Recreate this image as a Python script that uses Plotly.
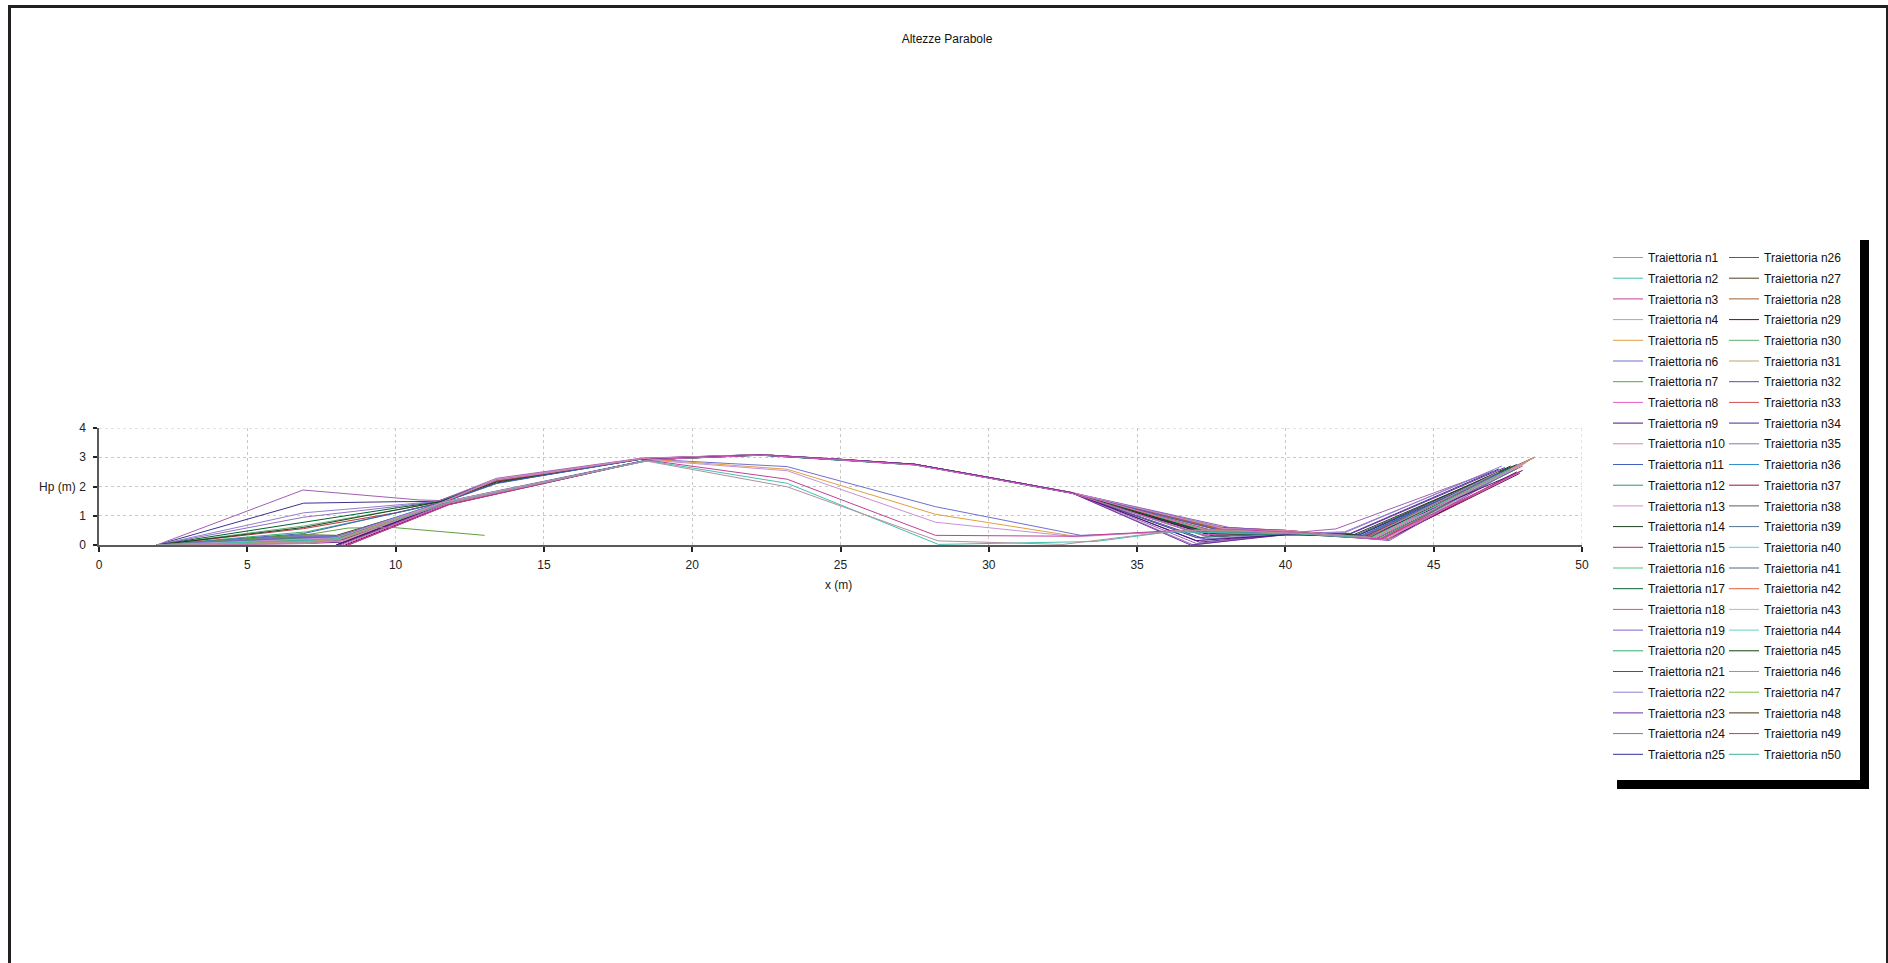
import plotly.graph_objects as go

# ---------------- data ----------------
x_n1 = [1.95, 7.0, 8.1, 11.7, 18.4, 23.2, 28.3, 32.5, 36.4, 38.5, 40.5, 42.8, 47.2]
y_n1 = [0, 0.08, 0.18, 1.42, 2.88, 1.99, 0.14, 0.02, 0.50, 0.48, 0.40, 0.28, 2.50]
x_n2 = [1.95, 7.0, 8.2, 11.7, 18.5, 23.2, 28.3, 33.6, 36.1, 38.3, 40.4, 42.9, 47.6]
y_n2 = [0, 0.15, 0.22, 1.44, 2.88, 2.11, 0.02, 0.12, 0.45, 0.42, 0.38, 0.25, 2.60]
x_n3 = [8.4, 11.8, 18.5, 23.2, 28.2, 32.8, 36.4, 38.6, 40.6, 43.2, 47.9]
y_n3 = [0, 1.38, 2.90, 2.25, 0.33, 0.30, 0.50, 0.52, 0.40, 0.20, 2.50]
x_n4 = [1.95, 6.9, 8.0, 11.6, 18.6, 23.2, 28.2, 32.96, 36.6, 38.4, 40.3, 43.0, 48.1]
y_n4 = [0, 0.20, 0.25, 1.45, 2.90, 2.54, 0.78, 0.28, 0.50, 0.55, 0.42, 0.22, 2.80]
x_n5 = [1.95, 6.9, 8.1, 11.6, 18.7, 23.2, 28.2, 32.9, 36.5, 38.2, 40.2, 42.9, 48.4]
y_n5 = [0, 0.12, 0.20, 1.46, 2.92, 2.59, 1.05, 0.30, 0.48, 0.50, 0.40, 0.25, 3.00]
x_n6 = [1.95, 7.0, 8.0, 11.6, 18.6, 23.2, 28.2, 33.1, 36.3, 38.0, 40.0, 42.6, 47.6]
y_n6 = [0, 0.30, 0.28, 1.47, 2.93, 2.68, 1.31, 0.33, 0.45, 0.45, 0.42, 0.30, 2.60]
x_n7 = [1.95, 7.0, 8.4, 9.9, 13.0]
y_n7 = [0, 0.35, 0.58, 0.60, 0.33]
x_n8 = [8.2, 11.8, 18.6, 22.3, 25.0, 27.5, 30.0, 32.8, 37.2, 40.0, 43.3, 47.9]
y_n8 = [0, 1.42, 2.92, 3.07, 2.92, 2.74, 2.29, 1.77, 0.35, 0.45, 0.20, 2.50]
x_n9 = [8.0, 11.7, 18.6, 22.3, 25.0, 27.5, 30.0, 32.8, 37.0, 40.0, 42.8, 48.0]
y_n9 = [0, 1.44, 2.93, 3.08, 2.93, 2.76, 2.31, 1.79, 0.15, 0.35, 0.30, 2.55]
x_n10 = [1.95, 7.0, 8.3, 11.6, 13.4, 15.0, 18.3, 22.3, 25.0, 27.5, 30.0, 32.8, 37.6, 40.0, 43.0, 48.3]
y_n10 = [0, 0.05, 0.15, 1.47, 2.22, 2.44, 2.95, 3.09, 2.91, 2.74, 2.30, 1.80, 0.45, 0.50, 0.25, 2.95]
x_n11 = [1.95, 6.9, 11.6, 13.4, 15.0, 18.3, 22.3, 25.0, 27.5, 30.0, 32.8, 37.8, 40.0, 42.5, 48.4]
y_n11 = [0, 0.39, 1.46, 2.10, 2.38, 2.94, 3.08, 2.92, 2.75, 2.30, 1.78, 0.50, 0.42, 0.30, 3.00]
x_n12 = [1.95, 7.0, 8.2, 11.7, 18.6, 22.3, 25.0, 27.5, 30.0, 32.8, 37.4, 40.0, 43.1, 47.8]
y_n12 = [0, 0.25, 0.30, 1.45, 2.92, 3.07, 2.91, 2.74, 2.29, 1.77, 0.30, 0.38, 0.22, 2.60]
x_n13 = [1.95, 6.9, 8.1, 11.6, 13.4, 15.0, 18.3, 22.3, 25.0, 27.5, 30.0, 32.8, 38.0, 40.0, 43.4, 48.2]
y_n13 = [0, 0.10, 0.20, 1.47, 2.26, 2.47, 2.96, 3.09, 2.93, 2.76, 2.31, 1.79, 0.55, 0.45, 0.18, 2.90]
x_n14 = [1.95, 6.9, 11.5, 13.4, 15.0, 18.3, 22.3, 25.0, 27.5, 30.0, 32.8, 37.5, 40.0, 42.3, 47.8]
y_n14 = [0, 0.60, 1.48, 2.15, 2.40, 2.94, 3.08, 2.92, 2.75, 2.30, 1.78, 0.40, 0.45, 0.35, 2.75]
x_n15 = [1.95, 6.9, 10.0, 11.6, 13.4, 15.0, 18.3, 22.3, 25.0, 27.5, 30.0, 32.8, 37.9, 40.0, 42.7, 48.0]
y_n15 = [0, 0.56, 1.10, 1.47, 2.18, 2.42, 2.95, 3.08, 2.92, 2.75, 2.30, 1.78, 0.38, 0.40, 0.30, 2.80]
x_n16 = [1.95, 7.0, 8.0, 11.7, 18.6, 22.3, 25.0, 27.5, 30.0, 32.8, 37.3, 40.0, 43.0, 47.9]
y_n16 = [0, 0.18, 0.22, 1.44, 2.91, 3.07, 2.91, 2.74, 2.29, 1.77, 0.50, 0.48, 0.25, 2.70]
x_n17 = [1.95, 6.9, 10.1, 11.5, 13.4, 15.0, 18.3, 22.3, 25.0, 27.5, 30.0, 32.8, 37.7, 40.0, 42.6, 47.6]
y_n17 = [0, 0.79, 1.28, 1.48, 2.20, 2.43, 2.95, 3.09, 2.93, 2.76, 2.31, 1.79, 0.35, 0.40, 0.30, 2.65]
x_n18 = [1.95, 6.9, 8.1, 11.6, 18.6, 22.3, 25.0, 27.5, 30.0, 32.8, 37.6, 40.0, 43.2, 48.1]
y_n18 = [0, 0.30, 0.30, 1.45, 2.92, 3.08, 2.92, 2.75, 2.30, 1.78, 0.55, 0.50, 0.20, 2.85]
x_n19 = [1.95, 6.9, 8.0, 11.6, 13.4, 15.0, 18.3, 22.3, 25.0, 27.5, 30.0, 32.8, 38.1, 40.0, 43.5, 48.3]
y_n19 = [0, 0.22, 0.20, 1.47, 2.24, 2.46, 2.96, 3.09, 2.93, 2.76, 2.31, 1.79, 0.60, 0.48, 0.15, 2.95]
x_n20 = [1.95, 7.0, 10.5, 11.6, 18.6, 22.3, 25.0, 27.5, 30.0, 32.8, 37.4, 40.0, 42.8, 47.7]
y_n20 = [0, 0.45, 1.20, 1.46, 2.92, 3.08, 2.92, 2.75, 2.30, 1.78, 0.45, 0.42, 0.30, 2.70]
x_n21 = [8.1, 11.8, 18.6, 22.3, 25.0, 27.5, 30.0, 32.8, 37.0, 40.0, 42.4, 47.5]
y_n21 = [0, 1.43, 2.92, 3.08, 2.92, 2.75, 2.30, 1.78, 0.25, 0.40, 0.35, 2.60]
x_n22 = [1.95, 6.9, 10.4, 11.5, 13.4, 15.0, 18.3, 22.3, 25.0, 27.5, 30.0, 32.8, 37.2, 40.0, 42.0, 47.3]
y_n22 = [0, 1.10, 1.40, 1.50, 2.20, 2.43, 2.95, 3.08, 2.92, 2.75, 2.30, 1.78, 0.20, 0.38, 0.42, 2.70]
x_n23 = [1.95, 6.9, 8.3, 11.7, 18.6, 22.3, 25.0, 27.5, 30.0, 32.8, 36.8, 40.0, 42.2, 47.4]
y_n23 = [0, 0.05, 0.10, 1.44, 2.92, 3.08, 2.92, 2.75, 2.30, 1.78, 0.00, 0.35, 0.38, 2.65]
x_n24 = [1.95, 6.88, 10.8, 11.5, 13.4, 15.0, 18.3, 22.3, 25.0, 27.5, 30.0, 32.8, 37.0, 40.0, 41.7, 46.8]
y_n24 = [0, 1.88, 1.54, 1.52, 2.28, 2.50, 2.97, 3.09, 2.93, 2.76, 2.31, 1.79, 0.05, 0.40, 0.55, 2.45]
x_n25 = [8.0, 11.7, 18.6, 22.3, 25.0, 27.5, 30.0, 32.8, 37.3, 40.0, 42.5, 47.6]
y_n25 = [0, 1.44, 2.92, 3.07, 2.91, 2.74, 2.29, 1.77, 0.20, 0.35, 0.35, 2.60]
x_n26 = [1.95, 7.0, 8.2, 11.6, 13.4, 15.0, 18.3, 22.3, 25.0, 27.5, 30.0, 32.8, 37.8, 40.0, 43.3, 48.2]
y_n26 = [0, 0.12, 0.18, 1.47, 2.23, 2.45, 2.95, 3.08, 2.92, 2.75, 2.30, 1.78, 0.60, 0.50, 0.22, 2.90]
x_n27 = [1.95, 6.9, 8.0, 11.7, 18.6, 22.3, 25.0, 27.5, 30.0, 32.8, 37.5, 40.0, 42.9, 47.9]
y_n27 = [0, 0.35, 0.33, 1.45, 2.92, 3.08, 2.92, 2.75, 2.30, 1.78, 0.40, 0.42, 0.28, 2.75]
x_n28 = [1.95, 7.0, 8.1, 11.6, 13.4, 15.0, 18.3, 22.3, 25.0, 27.5, 30.0, 32.8, 38.0, 40.0, 43.1, 48.1]
y_n28 = [0, 0.20, 0.25, 1.47, 2.21, 2.44, 2.95, 3.08, 2.92, 2.75, 2.30, 1.78, 0.50, 0.45, 0.25, 2.85]
x_n29 = [8.3, 11.8, 18.6, 22.3, 25.0, 27.5, 30.0, 32.8, 37.6, 40.0, 43.4, 47.9]
y_n29 = [0, 1.40, 2.92, 3.09, 2.93, 2.76, 2.31, 1.79, 0.30, 0.40, 0.18, 2.45]
x_n30 = [1.95, 6.9, 10.3, 11.5, 13.4, 15.0, 18.3, 22.3, 25.0, 27.5, 30.0, 32.8, 37.6, 40.0, 42.6, 47.8]
y_n30 = [0, 0.65, 1.25, 1.48, 2.17, 2.41, 2.94, 3.08, 2.92, 2.75, 2.30, 1.78, 0.42, 0.45, 0.30, 2.70]
x_n31 = [1.95, 7.0, 8.2, 11.7, 18.6, 22.3, 25.0, 27.5, 30.0, 32.8, 38.1, 40.0, 43.5, 48.4]
y_n31 = [0, 0.08, 0.15, 1.44, 2.92, 3.08, 2.92, 2.75, 2.30, 1.78, 0.55, 0.48, 0.20, 3.00]
x_n32 = [1.95, 6.9, 8.0, 11.6, 13.4, 15.0, 18.3, 22.3, 25.0, 27.5, 30.0, 32.8, 37.4, 40.0, 42.7, 48.0]
y_n32 = [0, 0.28, 0.25, 1.47, 2.19, 2.42, 2.94, 3.08, 2.92, 2.75, 2.30, 1.78, 0.38, 0.42, 0.32, 2.80]
x_n33 = [1.95, 7.0, 8.1, 11.7, 18.6, 22.3, 25.0, 27.5, 30.0, 32.8, 37.9, 40.0, 43.0, 48.0]
y_n33 = [0, 0.22, 0.22, 1.45, 2.92, 3.08, 2.92, 2.75, 2.30, 1.78, 0.50, 0.45, 0.25, 2.70]
x_n34 = [1.95, 6.9, 10.0, 11.4, 13.4, 15.0, 18.3, 22.3, 25.0, 27.5, 30.0, 32.8, 37.1, 40.0, 42.2, 47.2]
y_n34 = [0, 1.43, 1.48, 1.49, 2.22, 2.45, 2.95, 3.09, 2.93, 2.76, 2.31, 1.79, 0.10, 0.35, 0.40, 2.60]
x_n35 = [1.95, 6.9, 10.3, 11.5, 13.4, 15.0, 18.3, 22.3, 25.0, 27.5, 30.0, 32.8, 36.9, 40.0, 42.0, 47.0]
y_n35 = [0, 0.95, 1.35, 1.50, 2.24, 2.46, 2.95, 3.08, 2.92, 2.75, 2.30, 1.78, 0.00, 0.38, 0.45, 2.55]
x_n36 = [1.95, 7.0, 8.2, 11.7, 18.6, 22.3, 25.0, 27.5, 30.0, 32.8, 37.7, 40.0, 43.2, 48.2]
y_n36 = [0, 0.14, 0.20, 1.45, 2.92, 3.08, 2.92, 2.75, 2.30, 1.78, 0.45, 0.42, 0.22, 2.90]
x_n37 = [8.4, 11.8, 18.6, 22.3, 25.0, 27.5, 30.0, 32.8, 37.5, 40.0, 43.5, 47.8]
y_n37 = [0, 1.38, 2.92, 3.08, 2.92, 2.75, 2.30, 1.78, 0.35, 0.45, 0.20, 2.50]
x_n38 = [1.95, 6.9, 8.0, 11.6, 13.4, 15.0, 18.3, 22.3, 25.0, 27.5, 30.0, 32.8, 37.8, 40.0, 42.9, 48.1]
y_n38 = [0, 0.18, 0.20, 1.47, 2.20, 2.43, 2.95, 3.08, 2.92, 2.75, 2.30, 1.78, 0.50, 0.45, 0.28, 2.85]
x_n39 = [1.95, 7.0, 8.1, 11.7, 18.6, 22.3, 25.0, 27.5, 30.0, 32.8, 37.3, 40.0, 42.6, 47.7]
y_n39 = [0, 0.10, 0.16, 1.45, 2.92, 3.08, 2.92, 2.75, 2.30, 1.78, 0.30, 0.40, 0.32, 2.65]
x_n40 = [1.95, 6.9, 8.2, 11.6, 13.4, 15.0, 18.3, 22.3, 25.0, 27.5, 30.0, 32.8, 38.0, 40.0, 43.3, 48.3]
y_n40 = [0, 0.28, 0.27, 1.47, 2.23, 2.45, 2.95, 3.08, 2.92, 2.75, 2.30, 1.78, 0.55, 0.50, 0.20, 2.95]
x_n41 = [1.95, 7.0, 8.0, 11.7, 18.6, 22.3, 25.0, 27.5, 30.0, 32.8, 37.5, 40.0, 42.8, 47.9]
y_n41 = [0, 0.06, 0.12, 1.45, 2.92, 3.08, 2.92, 2.75, 2.30, 1.78, 0.40, 0.42, 0.28, 2.70]
x_n42 = [1.95, 6.9, 8.1, 11.6, 13.4, 15.0, 18.3, 22.3, 25.0, 27.5, 30.0, 32.8, 37.9, 40.0, 43.1, 48.2]
y_n42 = [0, 0.24, 0.26, 1.47, 2.25, 2.47, 2.96, 3.09, 2.93, 2.76, 2.31, 1.79, 0.60, 0.50, 0.25, 2.90]
x_n43 = [1.95, 7.0, 8.2, 11.7, 18.6, 22.3, 25.0, 27.5, 30.0, 32.8, 37.6, 40.0, 43.4, 48.4]
y_n43 = [0, 0.16, 0.20, 1.45, 2.92, 3.08, 2.92, 2.75, 2.30, 1.78, 0.50, 0.45, 0.20, 3.00]
x_n44 = [1.95, 6.9, 8.0, 11.6, 13.4, 15.0, 18.3, 22.3, 25.0, 27.5, 30.0, 32.8, 37.4, 40.0, 42.9, 48.0]
y_n44 = [0, 0.32, 0.30, 1.47, 2.18, 2.42, 2.94, 3.08, 2.92, 2.75, 2.30, 1.78, 0.45, 0.45, 0.30, 2.80]
x_n45 = [8.0, 11.6, 13.4, 15.0, 18.3, 22.3, 25.0, 27.5, 30.0, 32.8, 37.6, 40.0, 42.5, 47.6]
y_n45 = [0, 1.46, 2.12, 2.38, 2.94, 3.08, 2.92, 2.75, 2.30, 1.78, 0.30, 0.40, 0.35, 2.70]
x_n46 = [1.95, 7.0, 8.1, 11.7, 18.6, 22.3, 25.0, 27.5, 30.0, 32.8, 37.7, 40.0, 43.0, 48.1]
y_n46 = [0, 0.20, 0.22, 1.45, 2.92, 3.08, 2.92, 2.75, 2.30, 1.78, 0.45, 0.45, 0.25, 2.85]
x_n47 = [1.95, 6.9, 8.2, 11.6, 13.4, 15.0, 18.3, 22.3, 25.0, 27.5, 30.0, 32.8, 37.9, 40.0, 43.2, 48.2]
y_n47 = [0, 0.10, 0.15, 1.47, 2.22, 2.44, 2.95, 3.08, 2.92, 2.75, 2.30, 1.78, 0.50, 0.48, 0.22, 2.90]
x_n48 = [1.95, 6.9, 8.0, 11.7, 18.6, 22.3, 25.0, 27.5, 30.0, 32.8, 37.5, 40.0, 42.7, 47.9]
y_n48 = [0, 0.26, 0.28, 1.45, 2.92, 3.08, 2.92, 2.75, 2.30, 1.78, 0.40, 0.42, 0.30, 2.75]
x_n49 = [1.95, 7.0, 8.1, 11.6, 13.4, 15.0, 18.3, 22.3, 25.0, 27.5, 30.0, 32.8, 37.8, 40.0, 43.4, 47.9]
y_n49 = [0, 0.12, 0.18, 1.47, 2.21, 2.44, 2.95, 3.08, 2.92, 2.75, 2.30, 1.78, 0.55, 0.50, 0.20, 2.50]
x_n50 = [1.95, 6.9, 8.2, 11.7, 18.6, 22.3, 25.0, 27.5, 30.0, 32.8, 37.4, 40.0, 42.8, 48.0]
y_n50 = [0, 0.30, 0.28, 1.45, 2.92, 3.08, 2.92, 2.75, 2.30, 1.78, 0.35, 0.40, 0.28, 2.75]

line_colors = [
    "#b0909f", "#40c0b0", "#c0409a", "#c890d8", "#e0a040",
    "#7070d0", "#60a040", "#e060c0", "#501080", "#e080b0",
    "#4060c0", "#30907a", "#d090d0", "#204020", "#c03040",
    "#50c080", "#006030", "#d06060", "#8060d0", "#30b070",
    "#505070", "#9080d0", "#7030a0", "#a060b0", "#3030a0",
    "#904070", "#504020", "#a06030", "#700050", "#60b070",
    "#c0a070", "#5050b0", "#d05050", "#403090", "#9070c0",
    "#3090d0", "#a01040", "#606060", "#507090", "#50d0d0",
    "#506880", "#e06040", "#d0b0a0", "#60d0d0", "#104010",
    "#50b0d0", "#80c040", "#503010", "#c04050", "#40b0a0",
]

x_ticks = [0, 5, 10, 15, 20, 25, 30, 35, 40, 45, 50]
y_ticks = [0, 1, 2, 3, 4]

chart_title = "Altezze Parabole"
x_label = "x (m)"
y_label = "Hp (m)"

# ---------------- layout geometry ----------------
W, H = 1888, 963
L, R, T, B = 99, 306, 428, 418
PW = W - L - R
PH = H - T - B


def px(xp):
    return (xp - L) / PW


def py(yp):
    return (H - B - yp) / PH


FONT = "Liberation Sans, Arial, sans-serif"

g = globals()
fig = go.Figure()
# drawn from last to first so the first trajectories lie on top
for i in range(50, 0, -1):
    xs = g[f"x_n{i}"]
    ys = g[f"y_n{i}"]
    fig.add_trace(go.Scatter(
        x=xs, y=ys, mode="lines",
        name=f"Traiettoria n{i}",
        line=dict(color=line_colors[i - 1], width=1),
        legend="legend" if i <= 25 else "legend2",
        legendgroup=f"g{i:02d}",
        legendrank=i,
        hoverinfo="skip",
    ))

legend_common = dict(
    yanchor="top", xanchor="left",
    bgcolor="rgba(0,0,0,0)", borderwidth=0,
    font=dict(family=FONT, size=12, color="#111111"),
    traceorder="grouped", tracegroupgap=1.7,
    itemwidth=30, maxheight=700,
)

grid_style = dict(color="#c8c8c8", width=1, dash="3px,3px")
shapes = [
    # outer frame
    dict(type="rect", xref="paper", yref="paper",
         x0=px(9.5), x1=px(1887.5), y0=py(1000), y1=py(6.5),
         line=dict(color="#231f20", width=3), fillcolor="rgba(0,0,0,0)", layer="above"),
    # legend shadow (right and bottom)
    dict(type="rect", xref="paper", yref="paper",
         x0=px(1860), x1=px(1869), y0=py(789), y1=py(240),
         line=dict(width=0), fillcolor="#000000"),
    dict(type="rect", xref="paper", yref="paper",
         x0=px(1617), x1=px(1869), y0=py(789), y1=py(780),
         line=dict(width=0), fillcolor="#000000"),
    # border grid lines at the top and right of the plot area
    dict(type="line", xref="x", yref="y", x0=0, x1=50, y0=4, y1=4,
         line=grid_style, layer="below"),
    dict(type="line", xref="x", yref="y", x0=50, x1=50, y0=0, y1=4,
         line=grid_style, layer="below"),
]

annotations = [
    dict(text=y_label, xref="paper", yref="paper", x=px(37), y=py(487),
         xanchor="left", yanchor="middle", showarrow=False,
         font=dict(family=FONT, size=12, color="#222222")),
    dict(text=x_label, xref="paper", yref="paper", x=px(838), y=py(585),
         xanchor="center", yanchor="middle", showarrow=False,
         font=dict(family=FONT, size=12, color="#222222")),
]

fig.update_layout(
    width=W, height=H,
    margin=dict(l=L, r=R, t=T, b=B, pad=0),
    paper_bgcolor="white", plot_bgcolor="white",
    font=dict(family=FONT, size=12, color="#222222"),
    title=dict(text=chart_title, x=947 / W, y=1 - 39 / H,
               xref="container", yref="container",
               xanchor="center", yanchor="middle",
               font=dict(family=FONT, size=12, color="#111111")),
    showlegend=True,
    legend=dict(x=px(1608), y=py(243), **legend_common),
    legend2=dict(x=px(1724), y=py(243), **legend_common),
    shapes=shapes,
    annotations=annotations,
    xaxis=dict(range=[0, 50], tickvals=x_ticks, showgrid=True,
               gridcolor="#c8c8c8", griddash="3px,3px", gridwidth=1,
               zeroline=False, showline=True, linecolor="#5a5a5a", linewidth=2,
               ticks="outside", ticklen=5, tickwidth=1.5, tickcolor="#222222",
               ticklabelstandoff=3,
               tickfont=dict(family=FONT, size=12, color="#222222")),
    yaxis=dict(range=[0, 4], tickvals=y_ticks, showgrid=True,
               gridcolor="#c8c8c8", griddash="3px,3px", gridwidth=1,
               zeroline=False, showline=True, linecolor="#5a5a5a", linewidth=1.5,
               ticks="outside", ticklen=4, tickwidth=1.5, tickcolor="#222222",
               ticklabelstandoff=5,
               tickfont=dict(family=FONT, size=12, color="#222222")),
)

fig.write_html(
    "out.html",
    config={"displayModeBar": False},
    post_script="document.body.style.margin='0';document.body.style.overflow='hidden';",
)
